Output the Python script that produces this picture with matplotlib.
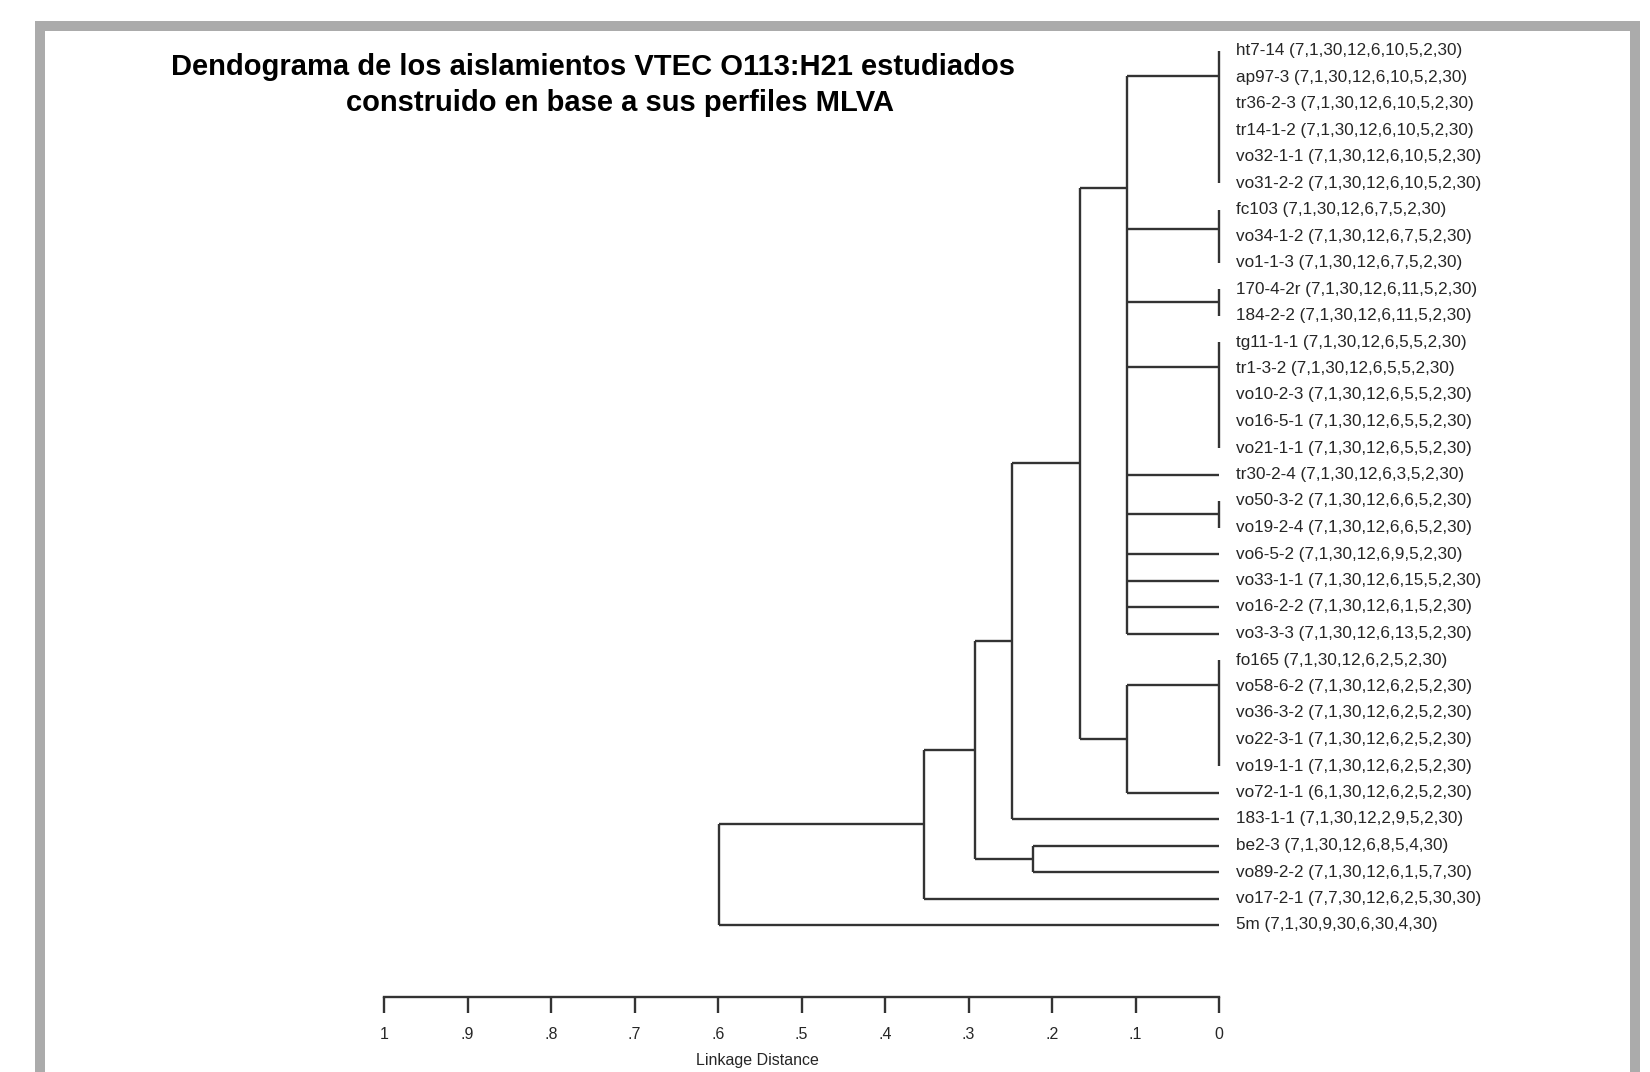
import numpy as np
import matplotlib
matplotlib.use("Agg")
import matplotlib.pyplot as plt
from matplotlib.patches import Rectangle

plt.rcParams['font.family'] = ['Liberation Sans', 'DejaVu Sans']

# isolates (top to bottom) and their MLVA profiles
names = ['ht7-14', 'ap97-3', 'tr36-2-3', 'tr14-1-2', 'vo32-1-1', 'vo31-2-2',
         'fc103', 'vo34-1-2', 'vo1-1-3', '170-4-2r', '184-2-2',
         'tg11-1-1', 'tr1-3-2', 'vo10-2-3', 'vo16-5-1', 'vo21-1-1',
         'tr30-2-4', 'vo50-3-2', 'vo19-2-4', 'vo6-5-2', 'vo33-1-1',
         'vo16-2-2', 'vo3-3-3', 'fo165', 'vo58-6-2', 'vo36-3-2',
         'vo22-3-1', 'vo19-1-1', 'vo72-1-1', '183-1-1', 'be2-3',
         'vo89-2-2', 'vo17-2-1', '5m']
profiles = ['7,1,30,12,6,10,5,2,30'] * 6 + ['7,1,30,12,6,7,5,2,30'] * 3 + \
           ['7,1,30,12,6,11,5,2,30'] * 2 + ['7,1,30,12,6,5,5,2,30'] * 5 + \
           ['7,1,30,12,6,3,5,2,30'] + ['7,1,30,12,6,6,5,2,30'] * 2 + \
           ['7,1,30,12,6,9,5,2,30', '7,1,30,12,6,15,5,2,30',
            '7,1,30,12,6,1,5,2,30', '7,1,30,12,6,13,5,2,30'] + \
           ['7,1,30,12,6,2,5,2,30'] * 5 + \
           ['6,1,30,12,6,2,5,2,30', '7,1,30,12,2,9,5,2,30',
            '7,1,30,12,6,8,5,4,30', '7,1,30,12,6,1,5,7,30',
            '7,7,30,12,6,2,5,30,30', '7,1,30,9,30,6,30,4,30']

# tree: (linkage distance, [children]); ints are leaf indices
tree = (0.599, [
    (0.353, [
        (0.292, [
            (0.248, [
                (0.166, [
                    (0.110, [(0.0, [0, 1, 2, 3, 4, 5]), (0.0, [6, 7, 8]),
                             (0.0, [9, 10]), (0.0, [11, 12, 13, 14, 15]),
                             16, (0.0, [17, 18]), 19, 20, 21, 22]),
                    (0.110, [(0.0, [23, 24, 25, 26, 27]), 28]),
                ]),
                29]),
            (0.223, [30, 31])]),
        32]),
    33])

ticks = [0, 0.1, 0.2, 0.3, 0.4, 0.5, 0.6, 0.7, 0.8, 0.9, 1.0]
tick_labels = ['0', '.1', '.2', '.3', '.4', '.5', '.6', '.7', '.8', '.9', '1']

W, H = 1650, 1072
line_col = '#333333'
lw = 1.7

fig = plt.figure(figsize=(W / 100, H / 100), dpi=100)
fig.patch.set_facecolor('white')

top_px, bot_px = 50.5, 925
ax = fig.add_axes([384 / W, 1 - bot_px / H, (1219 - 384) / W, (bot_px - top_px) / H])
ax.set_facecolor('none')
ax.set_xlim(1, 0)
ax.set_ylim(len(names) - 1, 0)


def draw(node):
    # returns (height, y) of node, drawing its links
    if isinstance(node, int):
        return 0.0, float(node)
    h, children = node
    pts = [draw(c) for c in children]
    for ch, cy in pts:
        if ch < h:
            ax.plot([ch, h], [cy, cy], color=line_col, lw=lw,
                    solid_capstyle='butt', clip_on=False)
    ys = [p[1] for p in pts]
    ax.plot([h, h], [min(ys), max(ys)], color=line_col, lw=lw,
            solid_capstyle='butt', clip_on=False)
    # sequential joins: each child merges with the rest below it
    y = ys[-1]
    for v in reversed(ys[:-1]):
        y = (v + y) / 2
    return h, y


draw(tree)

for i, (n, p) in enumerate(zip(names, profiles)):
    ax.annotate(f'{n} ({p})', xy=(0, i), xytext=(12, 0), textcoords='offset points',
                va='center', ha='left', fontsize=12.3, color='#262626')

for s in ['left', 'right', 'top']:
    ax.spines[s].set_visible(False)
ax.spines['bottom'].set_position(('outward', (997 - bot_px) * 0.72))
ax.spines['bottom'].set_color(line_col)
ax.spines['bottom'].set_linewidth(lw)
ax.set_yticks([])
ax.set_xticks(ticks)
ax.set_xticklabels(tick_labels)
ax.tick_params(axis='x', direction='out', length=11.5, width=lw, color=line_col,
               pad=10, labelsize=11.5, labelcolor='#262626')

fig.text(757 / W, 1 - 1061 / H, 'Linkage Distance', ha='center', va='center',
         fontsize=11.5, color='#262626')

fig.text(593 / W, 1 - 67 / H, 'Dendograma de los aislamientos VTEC O113:H21 estudiados',
         ha='center', va='center', fontsize=21, fontweight='bold')
fig.text(620 / W, 1 - 103 / H, 'construido en base a sus perfiles MLVA',
         ha='center', va='center', fontsize=21, fontweight='bold')

# grey page frame
fig.add_artist(Rectangle((40 / W, -0.05), (1635 - 40) / W, 1.05 - 26 / H,
                         transform=fig.transFigure, fill=False,
                         edgecolor='#ababab', lw=7.2))

fig.savefig('out.png', dpi=100)
